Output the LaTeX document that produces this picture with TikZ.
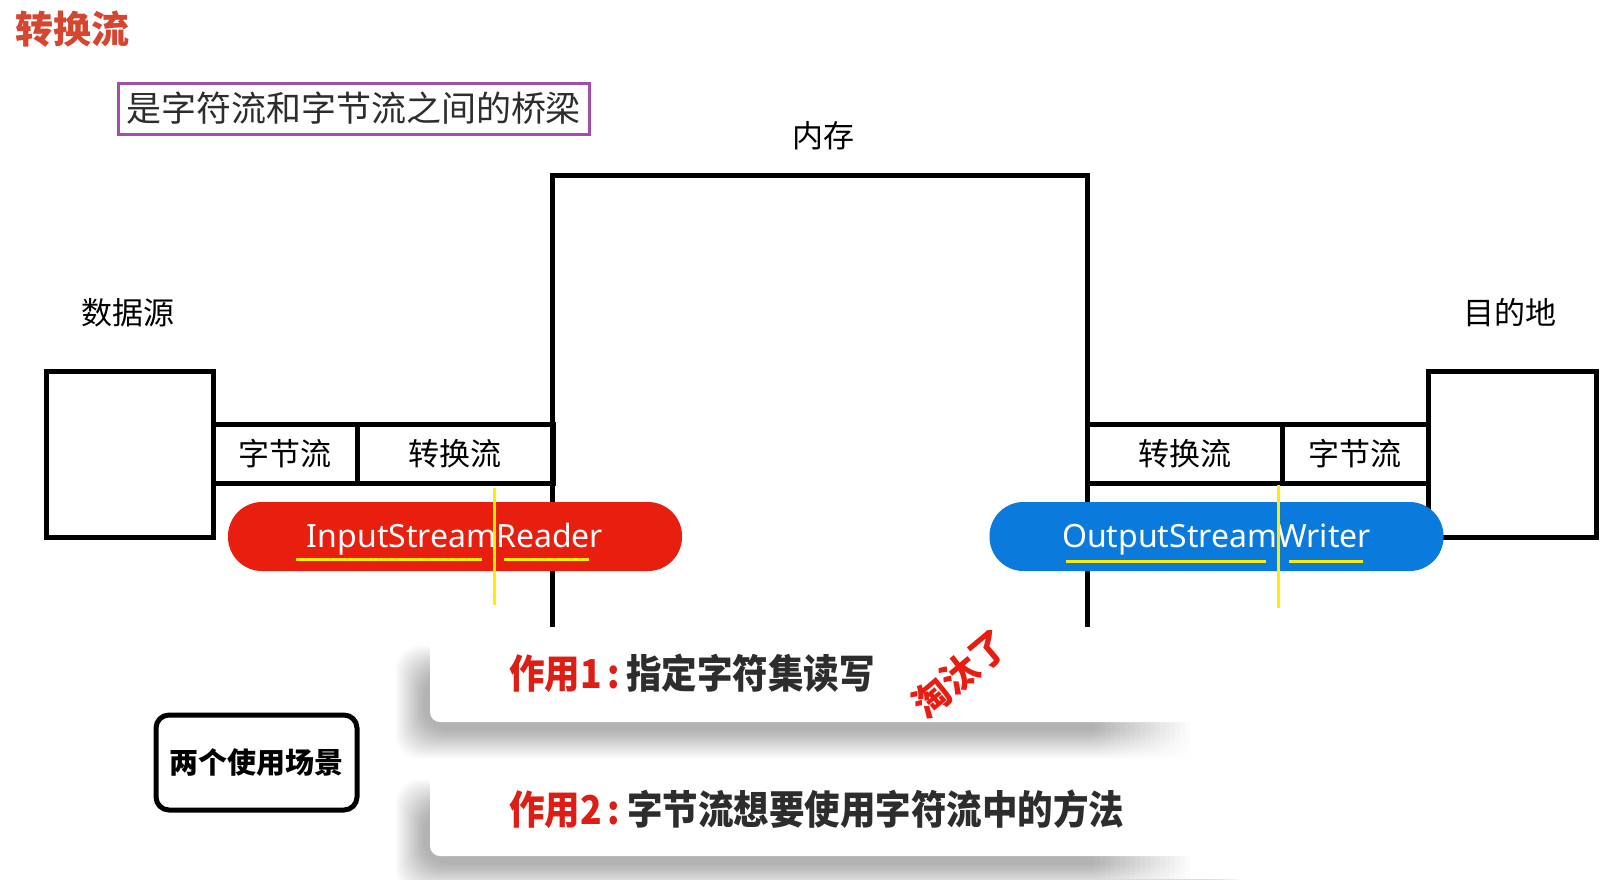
\documentclass[tikz,border=0pt]{standalone}
\usepackage{fontspec}
\setmainfont{Noto Sans}
\newfontfamily\cjk{Noto Sans CJK SC}
\definecolor{titlered}{RGB}{213,69,47}
\definecolor{purplebox}{RGB}{160,80,170}
\definecolor{pillred}{RGB}{232,30,14}
\definecolor{pillblue}{RGB}{10,122,220}
\definecolor{yel}{RGB}{255,236,0}
\definecolor{darktext}{RGB}{45,45,45}
\definecolor{cardred}{RGB}{222,30,20}
\definecolor{stampred}{RGB}{232,28,16}
\tikzset{
  frame/.style={draw=black, line width=5pt},
  boxnode/.style={draw=black, line width=5pt, inner sep=0pt},
  cell/.style={draw=black, line width=5pt, minimum height=59pt, inner sep=0pt, font=\cjk\fontsize{31}{36}\selectfont},
  lbl/.style={inner sep=0pt, font=\cjk\fontsize{31}{36}\selectfont, text=black},
  pill/.style={rounded corners=34pt, minimum width=454pt, minimum height=69pt, inner sep=0pt, text height=22pt, text depth=0pt, text=white, font=\fontsize{32}{38}\selectfont},
  hl/.style={draw=yel, line width=3pt},
  card/.style={fill=white, rounded corners=10pt, minimum width=785pt, minimum height=92pt, inner sep=0pt},
  cardtext/.style={anchor=west, inner sep=0pt, font=\cjk\bfseries\fontsize{35.5}{40}\selectfont},
}
\begin{document}
\begin{tikzpicture}[x=1pt,y=-1pt]
\useasboundingbox (0,0) rectangle (1607,879);
\fill[white] (0,0) rectangle (1607,879);

% title and bridge note
\node[anchor=west, inner sep=0pt, text=titlered, font=\cjk\bfseries\fontsize{38}{44}\selectfont] (title) at (15,29) {转换流};
\node[draw=purplebox, line width=3pt, minimum width=471pt, minimum height=51pt, inner sep=0pt, text=darktext, font=\cjk\fontsize{35}{40}\selectfont] (bridge) at (353.5,108.5) {是字符流和字节流之间的桥梁};

% labels
\node[lbl] (memlbl) at (823,136) {内存};
\node[lbl] (srclbl) at (128,313) {数据源};
\node[lbl] (dstlbl) at (1510,313) {目的地};

% memory (open at the bottom)
\node[minimum width=534pt, minimum height=451pt, inner sep=0pt] (mem) at (820,401.5) {};
\draw[frame] (mem.south west) -- (mem.north west) -- (mem.north east) -- (mem.south east);

% source and destination boxes
\node[boxnode, minimum width=167pt, minimum height=166pt] (src) at (129.5,454) {};
\node[boxnode, minimum width=168pt, minimum height=166pt] (dst) at (1512,454) {};

% pipes
\node[cell, minimum width=144pt] (lbyte) at (285,453.5) {字节流};
\node[cell, minimum width=196pt] (lconv) at (455,453.5) {转换流};
\node[cell, minimum width=195pt] (rconv) at (1184.5,453.5) {转换流};
\node[cell, minimum width=146pt] (rbyte) at (1355,453.5) {字节流};

% pills
\node[pill, fill=pillred] (isr) at (455,536.5) {InputStreamReader};
\node[pill, fill=pillblue] (osw) at (1216.5,536.5) {OutputStreamWriter};

% yellow marks
\draw[hl] (296,559) -- (482,559);
\draw[hl] (504,559) -- (589,559);
\draw[hl] (494,488) -- (494,605);
\draw[hl] (1066,561) -- (1266,561);
\draw[hl] (1289,561) -- (1363,561);
\draw[hl] (1278,485) -- (1278,608);

% card shadows (soft, built from layers)
\foreach \cy in {630,764}{
  \foreach \i in {0,...,19}{
    \fill[black, opacity=0.016, rounded corners=24pt] (424-1.5*\i,\cy+44-1.5*\i) rectangle (1215+1.5*\i,\cy+100+1.5*\i);
  }
}
% cards
\node[card] (c1) at (822.5,676) {};
\node[card] (c2) at (822.5,810) {};
% fade the right end of the cards and shadows
\foreach \k in {1,...,20}{
  \fill[white, opacity=\k/20] (1095+5*\k-5,612) rectangle (1095+5*\k,879);
}
\fill[white] (1195,612) rectangle (1262,879);

\node[cardtext] (t1) at (509,673) {\scalebox{1}[1.12]{\textcolor{cardred}{作用1\,:}\hspace{6pt}\textcolor{darktext}{指定字符集读写}}};
\node[cardtext] (t2) at (509,809) {\scalebox{1}[1.12]{\textcolor{cardred}{作用2\,:}\hspace{7pt}\textcolor{darktext}{字节流想要使用字符流中的方法}}};

\node[inner sep=0pt, rotate=40, text=stampred, font=\cjk\bfseries\fontsize{37}{42}\selectfont] (stamp) at (960,674) {淘汰了};

% scenario box
\node[draw=black, line width=5pt, rounded corners=13pt, minimum width=201pt, minimum height=95pt, inner sep=0pt, font=\cjk\bfseries\fontsize{29}{34}\selectfont] (scen) at (256.5,762.5) {两个使用场景};
\end{tikzpicture}
\end{document}
